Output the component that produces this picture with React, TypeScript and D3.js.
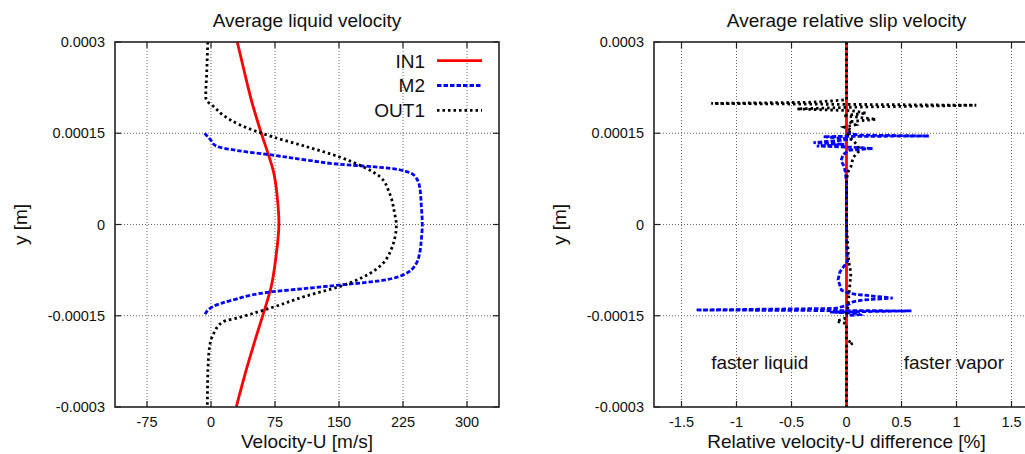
import * as d3 from 'd3';

// shared y axis (metres)
const yTicks = [0.0003, 0.00015, 0, -0.00015, -0.0003];
const yTickLabels = ['0.0003', '0.00015', '0', '-0.00015', '-0.0003'];

// left panel: average liquid velocity
const velocityTicks = [-75, 0, 75, 150, 225, 300];

const in1Y = [3.0e-4, 2.54e-4, 2.05e-4, 1.55e-4, 1.14e-4, 0.84e-4, 0.51e-4, 0, -0.58e-4, -1.02e-4, -1.49e-4, -1.84e-4, -2.39e-4, -3.0e-4];
const in1U = [30.8, 38.6, 47.2, 57.8, 67.5, 73.7, 77.2, 79.6, 75.7, 70.6, 60.8, 53, 41.3, 29.6];

const m2Y = [1.5e-4, 1.4e-4, 1.29e-4, 1.21e-4, 1.14e-4, 1.06e-4, 0.99e-4, 0.95e-4, 0.9e-4, 0.8e-4, 0.62e-4, 0.3e-4, 0, -0.26e-4, -0.47e-4, -0.64e-4, -0.83e-4, -0.94e-4, -0.995e-4, -1.05e-4, -1.105e-4, -1.24e-4, -1.35e-4, -1.49e-4];
const m2U = [-7.5, -1, 6, 33.5, 72.5, 111.7, 150.7, 189.7, 221, 238.6, 244.5, 246.5, 247.6, 246.4, 244.5, 240.6, 225, 189.7, 150.7, 111.7, 72.5, 25.7, 2.2, -7.5];

const out1Y = [3.0e-4, 2.5e-4, 2.1e-4, 2.02e-4, 1.94e-4, 1.8e-4, 1.64e-4, 1.44e-4, 1.28e-4, 1.11e-4, 0.95e-4, 0.79e-4, 0.51e-4, 0.18e-4, 0, -0.47e-4, -0.69e-4, -0.94e-4, -1.02e-4, -1.175e-4, -1.36e-4, -1.526e-4, -1.6e-4, -1.82e-4, -2.0e-4, -2.39e-4, -3.0e-4];
const out1U = [-3.8, -5, -6.2, -4, 3, 14, 33.5, 72.5, 111.7, 150.7, 178, 197.6, 209.3, 215.2, 217.2, 209.3, 197.6, 166.3, 150.7, 111.7, 72.5, 33.5, 14, 2.2, -1.6, -3.6, -4.3];

// right panel: relative slip velocity [%]
const slipTicks = [-1.5, -1, -0.5, 0, 0.5, 1, 1.5];

const in1SlipY = [3.0e-4, 0, -3.0e-4];
const in1Slip = [0, 0, 0];

const m2SlipY = [1.5e-4, 1.47e-4, 1.455e-4, 1.445e-4, 1.4e-4, 1.345e-4, 1.32e-4, 1.29e-4, 1.27e-4, 1.25e-4, 1.22e-4, 1.15e-4, 1.05e-4, 0.95e-4, 0.85e-4, 0.7e-4, 0.3e-4, 0, -0.3e-4, -0.6e-4, -0.78e-4, -0.91e-4, -1.0e-4, -1.08e-4, -1.13e-4, -1.15e-4, -1.21e-4, -1.24e-4, -1.27e-4, -1.33e-4, -1.38e-4, -1.405e-4, -1.415e-4, -1.42e-4, -1.44e-4, -1.46e-4, -1.48e-4, -1.5e-4];
const m2Slip = [0, 0.12, 0.75, -0.21, 0.05, -0.3, -0.02, -0.27, 0.05, 0.24, 0.02, -0.03, -0.05, -0.02, -0.01, 0, 0, 0, 0, 0.01, -0.06, -0.077, -0.06, -0.045, 0.02, 0.1, 0.42, 0.15, 0.06, 0, -0.1, -1.37, -0.1, 0.59, -0.15, 0.1, 0.12, 0];

const out1SlipY = [3.0e-4, 2.05e-4, 2.01e-4, 1.99e-4, 1.96e-4, 1.93e-4, 1.9e-4, 1.87e-4, 1.83e-4, 1.79e-4, 1.73e-4, 1.69e-4, 1.64e-4, 1.6e-4, 1.55e-4, 1.5e-4, 1.4e-4, 1.3e-4, 1.22e-4, 1.1e-4, 0.95e-4, 0.85e-4, 0.7e-4, 0, -0.6e-4, -0.8e-4, -1.0e-4, -1.2e-4, -1.4e-4, -1.55e-4, -1.59e-4, -1.63e-4, -1.9e-4, -1.95e-4, -2.0e-4, -3.0e-4];
const out1Slip = [0, 0, -0.3, -1.23, 1.18, 0.1, -0.45, 0.05, 0.18, -0.03, 0.27, 0.02, 0.08, -0.02, 0.05, 0, 0.05, 0.1, 0.12, 0.06, 0.04, 0.01, 0, 0, 0.02, 0.04, 0.03, 0.02, 0.01, -0.02, -0.09, 0, 0, 0.06, 0, 0];

const noteLabels = ['faster liquid', 'faster vapor'];
const noteX = [-1.23, 0.52];
const noteYpos = -2.37e-4;

const FONT = '"Liberation Sans", Arial, Helvetica, sans-serif';
const TOP = 42;
const BOTTOM = 407;

const styles = {
  IN1: { color: '#ff0000', dash: 'none', width: 2.8 },
  M2: { color: '#0000ff', dash: '4.5,2', width: 2.8 },
  OUT1: { color: '#000000', dash: '2.5,3', width: 2.8 },
};

interface Series {
  name: keyof typeof styles;
  ys: number[];
  vs: number[];
  curve: d3.CurveFactory;
}

interface PanelProps {
  id: string;
  left: number;
  right: number;
  xDomain: [number, number];
  xTicks: number[];
  title: string;
  xLabel: string;
  series: Series[];
  legend?: boolean;
  notes?: boolean;
}

function Panel({ id, left, right, xDomain, xTicks, title, xLabel, series, legend, notes }: PanelProps) {
  const x = d3.scaleLinear().domain(xDomain).range([left, right]);
  const y = d3.scaleLinear().domain([-0.0003, 0.0003]).range([BOTTOM, TOP]);
  const cx = (left + right) / 2;
  const tick = 6;

  return (
    <g>
      <defs>
        <clipPath id={id}>
          <rect x={left} y={TOP} width={right - left} height={BOTTOM - TOP} />
        </clipPath>
      </defs>
      <text x={cx} y={27} textAnchor="middle" fontSize={19} fontFamily={FONT} fill="#111">{title}</text>

      {/* grid */}
      {xTicks.map(t => (
        <line key={'gx' + t} x1={x(t)} x2={x(t)} y1={TOP} y2={BOTTOM} stroke="#666" strokeWidth={1} strokeDasharray="1,2" />
      ))}
      {yTicks.slice(1, -1).map(t => (
        <line key={'gy' + t} x1={left} x2={right} y1={y(t)} y2={y(t)} stroke="#666" strokeWidth={1} strokeDasharray="1,2" />
      ))}

      {/* tick marks, mirrored */}
      {xTicks.map(t => (
        <g key={'tx' + t} stroke="#222" strokeWidth={1.2}>
          <line x1={x(t)} x2={x(t)} y1={BOTTOM} y2={BOTTOM - tick} />
          <line x1={x(t)} x2={x(t)} y1={TOP} y2={TOP + tick} />
        </g>
      ))}
      {yTicks.map(t => (
        <g key={'ty' + t} stroke="#222" strokeWidth={1.2}>
          <line x1={left} x2={left + tick} y1={y(t)} y2={y(t)} />
          <line x1={right} x2={right - tick} y1={y(t)} y2={y(t)} />
        </g>
      ))}

      {/* tick labels */}
      {xTicks.map(t => (
        <text key={'lx' + t} x={x(t)} y={427} textAnchor="middle" fontSize={14.5} fontFamily={FONT} fill="#111">{String(t)}</text>
      ))}
      {yTicks.map((t, i) => (
        <text key={'ly' + t} x={left - 10} y={y(t) + 5} textAnchor="end" fontSize={14.5} fontFamily={FONT} fill="#111">{yTickLabels[i]}</text>
      ))}

      <text x={cx} y={448} textAnchor="middle" fontSize={19} fontFamily={FONT} fill="#111">{xLabel}</text>
      <text transform={`translate(${left - 88},${(TOP + BOTTOM) / 2}) rotate(-90)`} textAnchor="middle" fontSize={19} fontFamily={FONT} fill="#111">y [m]</text>

      {notes && noteLabels.map((n, i) => (
        <text key={n} x={x(noteX[i])} y={y(noteYpos)} fontSize={19} fontFamily={FONT} fill="#111">{n}</text>
      ))}

      {/* curves */}
      <g clipPath={`url(#${id})`}>
        {series.map(s => {
          const line = d3.line<number>()
            .x((_, i) => x(s.vs[i]))
            .y(d => y(d))
            .curve(s.curve);
          const st = styles[s.name];
          return (
            <path key={s.name} d={line(s.ys) ?? ''} fill="none" stroke={st.color}
              strokeWidth={st.width} strokeDasharray={st.dash} />
          );
        })}
      </g>

      {/* border */}
      <rect x={left} y={TOP} width={right - left} height={BOTTOM - TOP} fill="none" stroke="#222" strokeWidth={1.6} />

      {legend && series.map((s, i) => {
        const ly = 60.7 + i * 24.8;
        const st = styles[s.name];
        return (
          <g key={'leg' + s.name}>
            <text x={425} y={ly + 6.8} textAnchor="end" fontSize={19} fontFamily={FONT} fill="#111">{s.name}</text>
            <line x1={437} x2={482} y1={ly} y2={ly} stroke={st.color} strokeWidth={st.width} strokeDasharray={st.dash} />
          </g>
        );
      })}
    </g>
  );
}

export default function App() {
  const velocitySeries: Series[] = [
    { name: 'IN1', ys: in1Y, vs: in1U, curve: d3.curveCatmullRom },
    { name: 'M2', ys: m2Y, vs: m2U, curve: d3.curveMonotoneY },
    { name: 'OUT1', ys: out1Y, vs: out1U, curve: d3.curveMonotoneY },
  ];
  const slipSeries: Series[] = [
    { name: 'IN1', ys: in1SlipY, vs: in1Slip, curve: d3.curveLinear },
    { name: 'M2', ys: m2SlipY, vs: m2Slip, curve: d3.curveLinear },
    { name: 'OUT1', ys: out1SlipY, vs: out1Slip, curve: d3.curveLinear },
  ];

  return (
    <svg width={1025} height={454} style={{ position: 'fixed', left: 0, top: 0, background: '#fff' }}>
      <rect width={1025} height={454} fill="#fff" />
      <Panel id="clipLeft" left={115} right={499} xDomain={[-112.5, 337.5]} xTicks={velocityTicks}
        title="Average liquid velocity" xLabel="Velocity-U [m/s]" series={velocitySeries} legend />
      <Panel id="clipRight" left={654} right={1039} xDomain={[-1.75, 1.75]} xTicks={slipTicks}
        title="Average relative slip velocity" xLabel="Relative velocity-U difference [%]" series={slipSeries} notes />
    </svg>
  );
}
